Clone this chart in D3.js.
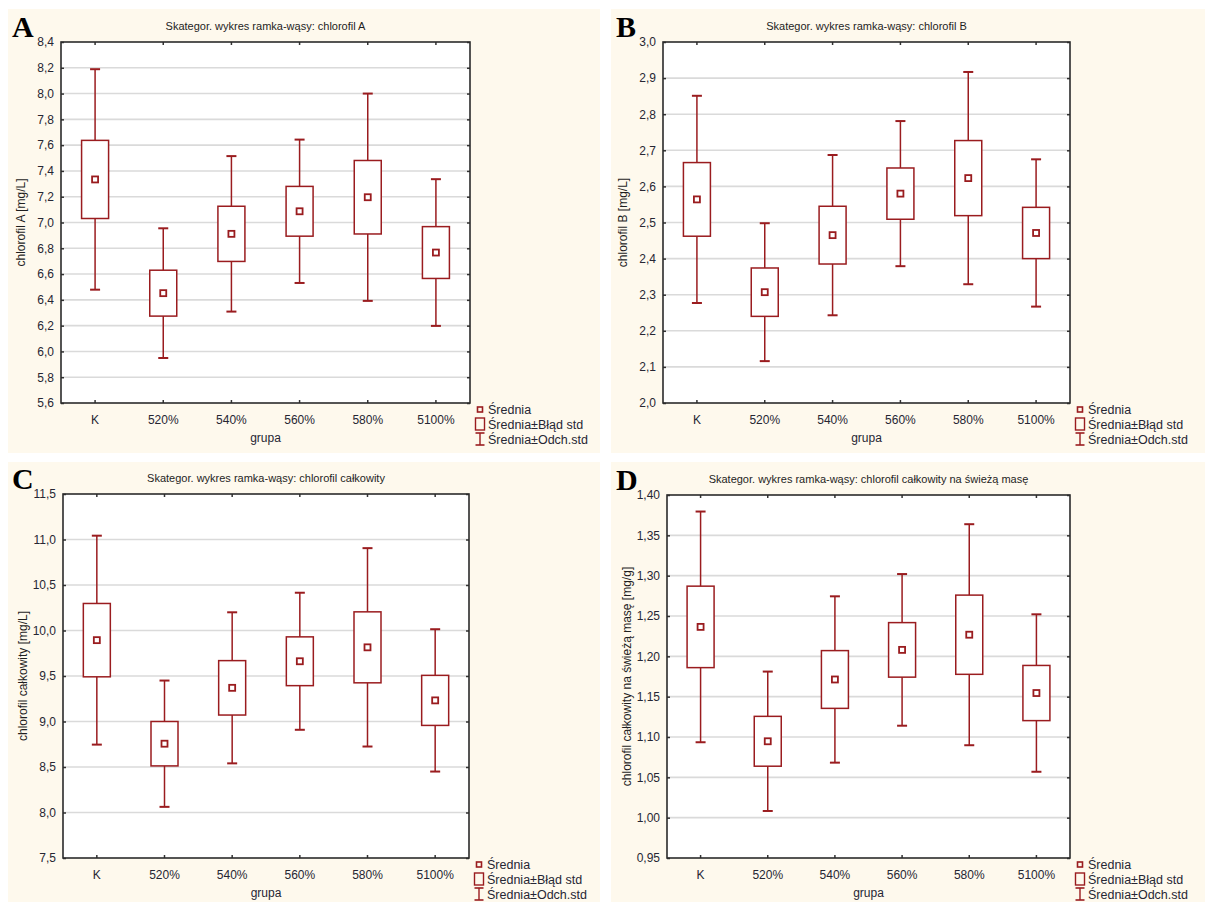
<!DOCTYPE html>
<html>
<head>
<meta charset="utf-8">
<script src="https://cdn.jsdelivr.net/npm/d3@7"></script>
<style>
  html, body { margin: 0; padding: 0; background: #ffffff; }
  svg { display: block; }
  text { font-family: "Liberation Sans", Arial, sans-serif; }
</style>
</head>
<body>
<svg id="chart" width="1205" height="902"></svg>
<script>
// Groups on the x axis
const groups = ["K", "520%", "540%", "560%", "580%", "5100%"];

// Chlorofil A [mg/L]
const meanA = [7.334, 6.452, 6.912, 7.087, 7.196, 6.767];
const seA   = [0.303, 0.178, 0.214, 0.193, 0.285, 0.201];
const sdA   = [0.855, 0.503, 0.603, 0.556, 0.804, 0.569];
const ticksA = [5.6, 5.8, 6.0, 6.2, 6.4, 6.6, 6.8, 7.0, 7.2, 7.4, 7.6, 7.8, 8.0, 8.2, 8.4];

// Chlorofil B [mg/L]
const meanB = [2.564, 2.307, 2.465, 2.580, 2.623, 2.471];
const seB   = [0.102, 0.067, 0.080, 0.071, 0.104, 0.071];
const sdB   = [0.287, 0.191, 0.222, 0.201, 0.294, 0.204];
const ticksB = [2.0, 2.1, 2.2, 2.3, 2.4, 2.5, 2.6, 2.7, 2.8, 2.9, 3.0];

// Chlorofil całkowity [mg/L]
const meanC = [9.894, 8.756, 9.370, 9.662, 9.815, 9.232];
const seC   = [0.403, 0.244, 0.299, 0.268, 0.390, 0.275];
const sdC   = [1.148, 0.694, 0.830, 0.753, 1.090, 0.782];
const ticksC = [7.5, 8.0, 8.5, 9.0, 9.5, 10.0, 10.5, 11.0, 11.5];

// Chlorofil całkowity na świeżą masę [mg/g]
const meanD = [1.2365, 1.0947, 1.1713, 1.2080, 1.2268, 1.1545];
const seD   = [0.0505, 0.0309, 0.0358, 0.0338, 0.0491, 0.0342];
const sdD   = [0.1430, 0.0864, 0.1031, 0.0940, 0.1370, 0.0976];
const ticksD = [0.95, 1.00, 1.05, 1.10, 1.15, 1.20, 1.25, 1.30, 1.35, 1.40];

const legendLabels = ["Średnia", "Średnia±Błąd std", "Średnia±Odch.std"];

const RED = "#9a1c1f";
const svg = d3.select("#chart");

const panels = [
  { letter: "A", letterX: 12, title: "Skategor. wykres ramka-wąsy: chlorofil A", ylabel: "chlorofil A [mg/L]",
    mean: meanA, se: seA, sd: sdA, ticks: ticksA, dec: 1,
    bg: [8, 9, 592, 444], plot: { l: 61, r: 470, t: 42, b: 403 } },
  { letter: "B", letterX: 616, title: "Skategor. wykres ramka-wąsy: chlorofil B", ylabel: "chlorofil B [mg/L]",
    mean: meanB, se: seB, sd: sdB, ticks: ticksB, dec: 1,
    bg: [611, 9, 594, 444], plot: { l: 663, r: 1070, t: 42, b: 403 } },
  { letter: "C", letterX: 12, title: "Skategor. wykres ramka-wąsy: chlorofil całkowity", ylabel: "chlorofil całkowity [mg/L]",
    mean: meanC, se: seC, sd: sdC, ticks: ticksC, dec: 1,
    bg: [8, 462, 592, 440], plot: { l: 63, r: 469, t: 494, b: 858 } },
  { letter: "D", letterX: 616, title: "Skategor. wykres ramka-wąsy: chlorofil całkowity na świeżą masę", ylabel: "chlorofil całkowity na świeżą masę [mg/g]",
    mean: meanD, se: seD, sd: sdD, ticks: ticksD, dec: 2,
    bg: [611, 462, 594, 440], plot: { l: 667, r: 1070, t: 495, b: 858 } }
];

panels.forEach(drawPanel);

function drawPanel(p) {
  const g = svg.append("g");
  const { l, r, t, b } = p.plot;

  // panel background
  g.append("rect").attr("x", p.bg[0]).attr("y", p.bg[1]).attr("width", p.bg[2]).attr("height", p.bg[3])
    .attr("fill", "#fef9ed");

  const x = d3.scaleBand().domain(groups).range([l, r]).paddingInner(0).paddingOuter(0);
  const y = d3.scaleLinear().domain([p.ticks[0], p.ticks[p.ticks.length - 1]]).range([b, t]);
  const cx = d => x(d) + x.bandwidth() / 2;
  const fmt = v => v.toFixed(p.dec).replace(".", ",");

  // plot area
  g.append("rect").attr("x", l).attr("y", t).attr("width", r - l).attr("height", b - t).attr("fill", "#ffffff");

  // horizontal grid
  g.append("g").selectAll("line").data(p.ticks.slice(1, -1)).join("line")
    .attr("x1", l).attr("x2", r).attr("y1", d => y(d)).attr("y2", d => y(d))
    .attr("stroke", "#dadada").attr("stroke-width", 1.6);

  // y axis (labels outside, inward ticks)
  const yAxis = g.append("g").attr("transform", `translate(${l},0)`)
    .call(d3.axisLeft(y).tickValues(p.ticks).tickFormat(fmt).tickSize(-3).tickPadding(7));
  const yAxisR = g.append("g").attr("transform", `translate(${r},0)`)
    .call(d3.axisRight(y).tickValues(p.ticks).tickFormat("").tickSize(-3));
  const xAxis = g.append("g").attr("transform", `translate(0,${b})`)
    .call(d3.axisBottom(x).tickSize(-3).tickPadding(12));
  const xAxisT = g.append("g").attr("transform", `translate(0,${t})`)
    .call(d3.axisTop(x).tickFormat("").tickSize(-3));
  [yAxis, yAxisR, xAxis, xAxisT].forEach(a => {
    a.select(".domain").remove();
    a.selectAll(".tick line").attr("stroke", "#333").attr("stroke-width", 1.5);
    a.selectAll(".tick text").attr("fill", "#262633").style("font-size", "12px")
      .style("font-family", "'Liberation Sans', Arial, sans-serif");
  });

  // frame
  g.append("rect").attr("x", l).attr("y", t).attr("width", r - l).attr("height", b - t)
    .attr("fill", "none").attr("stroke", "#2b2b2b").attr("stroke-width", 1.6);

  const boxW = 27, capW = 10, mk = 6;
  const rows = groups.map((d, i) => ({ g: d, m: p.mean[i], se: p.se[i], sd: p.sd[i] }));
  const marks = g.append("g").attr("fill", "none").attr("stroke", RED).attr("stroke-width", 1.5);

  // whiskers: mean ± sd
  marks.selectAll(".wh").data(rows).join("line").attr("class", "wh")
    .attr("x1", d => cx(d.g)).attr("x2", d => cx(d.g))
    .attr("y1", d => y(d.m + d.sd)).attr("y2", d => y(d.m - d.sd));
  marks.selectAll(".capT").data(rows).join("line").attr("class", "capT")
    .attr("x1", d => cx(d.g) - capW / 2).attr("x2", d => cx(d.g) + capW / 2)
    .attr("y1", d => y(d.m + d.sd)).attr("y2", d => y(d.m + d.sd)).attr("stroke-width", 2);
  marks.selectAll(".capB").data(rows).join("line").attr("class", "capB")
    .attr("x1", d => cx(d.g) - capW / 2).attr("x2", d => cx(d.g) + capW / 2)
    .attr("y1", d => y(d.m - d.sd)).attr("y2", d => y(d.m - d.sd)).attr("stroke-width", 2);

  // boxes: mean ± standard error
  marks.selectAll(".box").data(rows).join("rect").attr("class", "box")
    .attr("x", d => cx(d.g) - boxW / 2).attr("width", boxW)
    .attr("y", d => y(d.m + d.se)).attr("height", d => y(d.m - d.se) - y(d.m + d.se))
    .attr("fill", "#ffffff");

  // mean markers
  marks.selectAll(".mean").data(rows).join("rect").attr("class", "mean")
    .attr("x", d => cx(d.g) - mk / 2).attr("y", d => y(d.m) - mk / 2)
    .attr("width", mk).attr("height", mk).attr("fill", "#ffffff").attr("stroke-width", 1.8);

  // title
  g.append("text").attr("x", (l + r) / 2).attr("y", t - 12).attr("text-anchor", "middle")
    .attr("fill", "#1e1e1e").style("font-size", "11px").text(p.title);

  // axis titles
  g.append("text").attr("transform", `translate(${l - 36},${(t + b) / 2}) rotate(-90)`)
    .attr("text-anchor", "middle").attr("fill", "#1e1e1e").style("font-size", "12px").text(p.ylabel);
  g.append("text").attr("x", (l + r) / 2).attr("y", b + 39).attr("text-anchor", "middle")
    .attr("fill", "#262633").style("font-size", "12px").text("grupa");

  // panel letter
  g.append("text").attr("x", p.letterX).attr("y", t - 5)
    .style("font-family", "'Liberation Serif', 'Times New Roman', serif")
    .style("font-weight", "bold").style("font-size", "30px").attr("fill", "#000").text(p.letter);

  // legend
  const lx = r + 10, ly = b + 5;
  const lg = g.append("g").attr("fill", "none").attr("stroke", RED);
  lg.append("rect").attr("x", lx - 2.5).attr("y", ly - 1).attr("width", 5).attr("height", 5).attr("stroke-width", 1.6);
  lg.append("rect").attr("x", lx - 4.5).attr("y", ly + 10).attr("width", 9).attr("height", 12).attr("stroke-width", 1.4);
  lg.append("line").attr("x1", lx).attr("x2", lx).attr("y1", ly + 25).attr("y2", ly + 37).attr("stroke-width", 1.4);
  lg.append("line").attr("x1", lx - 4.5).attr("x2", lx + 4.5).attr("y1", ly + 25).attr("y2", ly + 25).attr("stroke-width", 1.6);
  lg.append("line").attr("x1", lx - 4.5).attr("x2", lx + 4.5).attr("y1", ly + 37).attr("y2", ly + 37).attr("stroke-width", 1.6);
  g.append("g").selectAll("text").data(legendLabels).join("text")
    .attr("x", lx + 8).attr("y", (d, i) => ly + 6 + i * 15)
    .attr("fill", "#262633").style("font-size", "12.5px").text(d => d);
}
</script>
</body>
</html>
